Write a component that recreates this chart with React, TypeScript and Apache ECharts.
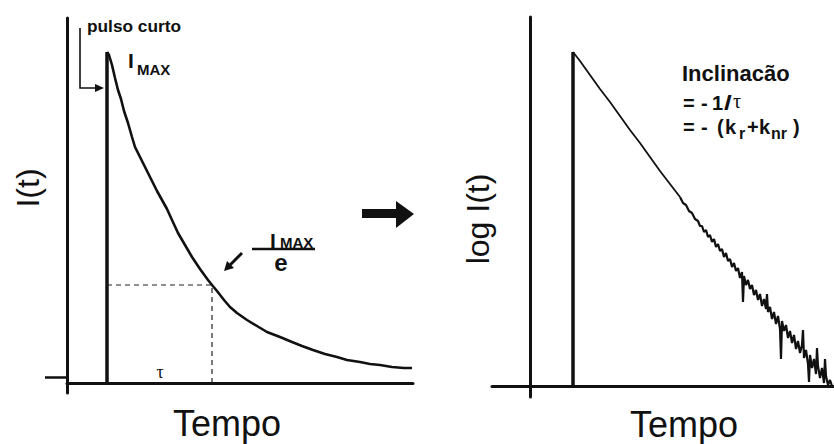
import React, { useEffect, useRef } from "react";
import * as echarts from "echarts";

// ---- Data ----
// Left panel: time offset (px-like units from the y axis) and intensity I(t)
const pulseLeft: [number, number][] = [[40, -1], [40, 331]];
const decayLeft: [number, number][] = [
  [40, 331], [42, 328], [45, 318], [48, 305], [51, 293], [54, 284], [57, 272],
  [61, 260], [65, 246], [68, 236], [72, 228], [76, 220], [81, 210], [86, 200],
  [90, 192], [95, 183], [100, 174], [105, 163], [111, 150], [118, 138], [125, 126],
  [133, 114], [141, 103], [145, 98], [150, 92], [157, 83], [163, 76], [170, 70],
  [180, 63], [190, 57], [200, 51], [213, 46], [225, 41], [235, 37], [246, 33],
  [258, 29], [270, 26], [280, 23], [293, 21], [303, 19], [313, 18], [325, 16],
  [337, 15], [345, 15],
];
const tauGuide: [number, number][] = [[40, 98], [145, 98], [145, 0]];

// Right panel: time offset and log I(t)
const pulseRight: [number, number][] = [[43, -1], [43, 334]];
// clean early part of the log decay
const logDecayClean: [number, number][] = [
  [43, 334], [50, 325], [60, 311], [70, 297], [80, 284], [90, 270], [100, 256],
  [110, 243], [120, 229], [130, 215], [140, 202], [150, 189],
];
// noisy tail
const logDecayNoisy: [number, number][] = [
  [150, 189], [153, 183],
  [156, 181], [159, 175], [162, 173], [165, 167], [168, 165], [170, 160],
  [172, 160], [174, 154], [176, 156], [178, 149], [180, 151], [182, 144],
  [184, 147], [186, 139], [188, 142], [190, 135], [192, 137], [194, 129],
  [196, 133], [198, 125], [200, 127], [202, 119], [204, 123], [206, 115],
  [208, 118], [210, 108], [212, 114], [213, 84], [214, 110], [216, 101],
  [218, 106], [220, 97], [222, 101], [224, 91], [226, 96], [228, 86], [230, 92],
  [232, 80], [234, 87], [236, 77], [237, 92], [238, 74], [240, 79], [242, 67],
  [244, 74], [246, 62], [248, 70], [250, 57], [251, 27], [252, 65], [254, 55],
  [256, 61], [258, 48], [260, 55], [262, 43], [264, 51], [266, 37], [268, 45],
  [270, 33], [272, 41], [273, 56], [274, 28], [276, 36], [278, 22], [279, 4],
  [280, 31], [282, 18], [284, 27], [286, 12], [287, 38], [288, 20], [290, 8],
  [292, 18], [294, 3], [295, 27], [296, 10], [298, 1], [300, 6], [302, 0],
];

const SANS = "'Liberation Sans', Arial, Helvetica, sans-serif";
const SERIF = "'Liberation Serif', 'Times New Roman', serif";

function txt(text: string, x: number, y: number, size: number, opts: any = {}) {
  return {
    type: "text",
    x,
    y,
    rotation: opts.rotation || 0,
    scaleX: opts.scaleX || 1,
    silent: true,
    style: {
      text,
      fill: "#111",
      font: `${opts.bold ? "bold " : ""}${size}px ${opts.family || SANS}`,
      align: opts.align || "left",
      verticalAlign: "middle",
    },
  };
}

export default function App() {
  const ref = useRef<HTMLDivElement>(null);
  useEffect(() => {
    if (!ref.current) return;
    const chart = echarts.init(ref.current, null, { renderer: "svg" });
    const axisLine = { show: true, onZero: true, lineStyle: { color: "#111", width: 3 } };
    const hidden = { show: false };
    const line3 = (d: any, xi: number, w: number, extra: any = {}) => ({
      type: "line",
      xAxisIndex: xi,
      yAxisIndex: xi,
      data: d,
      symbol: "none",
      silent: true,
      clip: false,
      lineStyle: { color: "#111", width: w, ...extra },
    });
    const b = { bold: true };
    chart.setOption({
      animation: false,
      backgroundColor: "#fff",
      grid: [
        { left: 67, top: 18, width: 346, height: 375 },
        { left: 492, top: 17, width: 342, height: 380 },
      ],
      xAxis: [
        { type: "value", gridIndex: 0, min: 0, max: 346, axisLine, axisTick: hidden, axisLabel: hidden, splitLine: hidden },
        { type: "value", gridIndex: 1, min: -38, max: 304, axisLine, axisTick: hidden, axisLabel: hidden, splitLine: hidden },
      ],
      yAxis: [
        {
          type: "value", gridIndex: 0, min: -10, max: 365, axisLine,
          axisTick: { show: true, customValues: [6], length: 22, lineStyle: { color: "#111", width: 2.5 } },
          axisLabel: hidden, splitLine: hidden,
        },
        { type: "value", gridIndex: 1, min: -11, max: 369, axisLine, axisTick: hidden, axisLabel: hidden, splitLine: hidden },
      ],
      series: [
        line3(pulseLeft, 0, 3.5),
        line3(decayLeft, 0, 2.6),
        line3(tauGuide, 0, 1.2, { type: [5, 4], color: "#222" }),
        line3(pulseRight, 1, 3.5),
        line3(logDecayClean, 1, 1.8),
        line3(logDecayNoisy, 1, 2.2),
      ],
      graphic: [
        // left panel annotations
        txt("pulso curto", 87, 27, 16, { bold: true, scaleX: 1.08 }),
        { type: "polyline", silent: true, shape: { points: [[80, 28], [80, 88], [96, 88]] }, style: { stroke: "#111", lineWidth: 1.6, fill: null } },
        { type: "polygon", silent: true, shape: { points: [[95, 84], [104, 88], [95, 92]] }, style: { fill: "#111" } },
        txt("I", 128, 60, 21, b),
        txt("MAX", 137, 69, 15, b),
        txt("I", 270, 240, 21, b),
        txt("MAX", 280, 242, 15, b),
        { type: "line", silent: true, shape: { x1: 252, y1: 249, x2: 315, y2: 249 }, style: { stroke: "#111", lineWidth: 2.5 } },
        txt("e", 281, 262, 24, { bold: true, align: "center" }),
        { type: "line", silent: true, shape: { x1: 242, y1: 253, x2: 230, y2: 265 }, style: { stroke: "#111", lineWidth: 3 } },
        { type: "polygon", silent: true, shape: { points: [[224, 271], [234, 268], [227, 261]] }, style: { fill: "#111" } },
        txt("τ", 160, 372, 18, { family: SERIF, align: "center" }),
        txt("I(t)", 28, 188, 32, { rotation: Math.PI / 2, align: "center" }),
        txt("Tempo", 227, 423, 36, { align: "center" }),
        // big arrow
        { type: "rect", silent: true, shape: { x: 362, y: 209, width: 35, height: 9 }, style: { fill: "#111" } },
        { type: "polygon", silent: true, shape: { points: [[396, 201], [414, 214], [396, 228]] }, style: { fill: "#111" } },
        // right panel annotations
        txt("log I(t)", 478, 219, 32, { rotation: Math.PI / 2, align: "center" }),
        txt("Tempo", 684, 424, 36, { align: "center" }),
        txt("Inclinacão", 682, 73, 22, b),
        txt("=", 683, 103, 20, b),
        txt("-", 701, 103, 20, b),
        txt("1", 712, 103, 20, b),
        txt("/", 724, 103, 20, { bold: true, scaleX: 1.4 }),
        txt("τ", 733, 101, 20, { family: SERIF }),
        txt("=", 683, 127, 20, b),
        txt("-", 701, 127, 20, b),
        txt("(", 717, 127, 20, b),
        txt("k", 725, 127, 20, b),
        txt("r", 739, 133, 16, b),
        txt("+", 747, 127, 20, b),
        txt("k", 759, 127, 20, b),
        txt("nr", 771, 133, 16, b),
        txt(")", 793, 127, 20, b),
      ],
    });
    return () => chart.dispose();
  }, []);
  return <div ref={ref} style={{ position: "fixed", left: 0, top: 0, width: 834, height: 444 }} />;
}
